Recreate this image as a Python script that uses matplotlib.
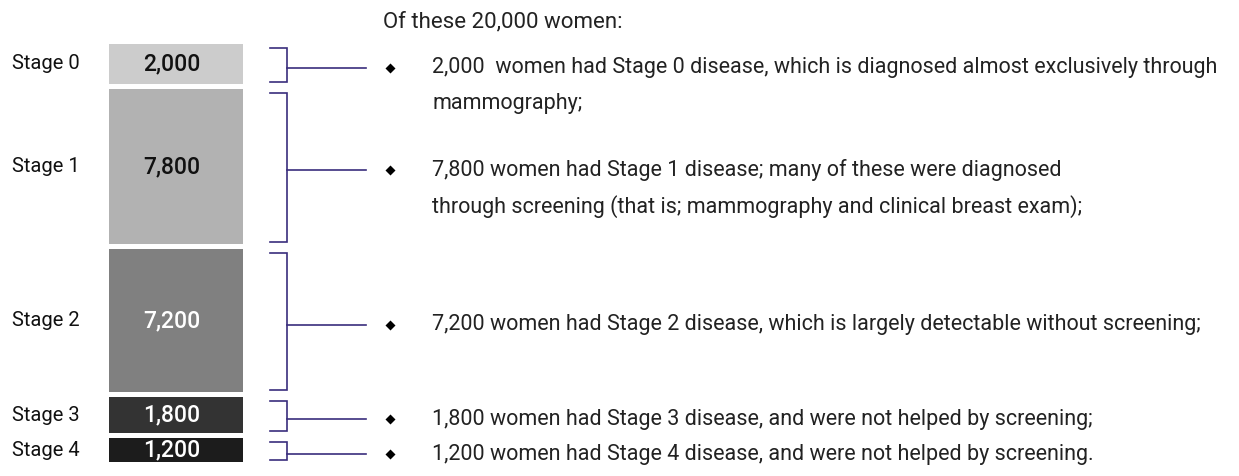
import matplotlib
matplotlib.use("Agg")
import matplotlib.pyplot as plt
import numpy as np

stages = ["Stage 0", "Stage 1", "Stage 2", "Stage 3", "Stage 4"]
counts = [2000, 7800, 7200, 1800, 1200]
value_labels = ["2,000", "7,800", "7,200", "1,800", "1,200"]
bar_colors = ["#cccccc", "#b2b2b2", "#808080", "#333333", "#1c1c1c"]
value_colors = ["#111111", "#111111", "#ffffff", "#ffffff", "#ffffff"]
title = "Of these 20,000 women:"
notes = [
    ["2,000  women had Stage 0 disease, which is diagnosed almost exclusively through",
     "mammography;"],
    ["7,800 women had Stage 1 disease; many of these were diagnosed",
     "through screening (that is; mammography and clinical breast exam);"],
    ["7,200 women had Stage 2 disease, which is largely detectable without screening;"],
    ["1,800 women had Stage 3 disease, and were not helped by screening;"],
    ["1,200 women had Stage 4 disease, and were not helped by screening."],
]

W, H = 1239, 476
fig = plt.figure(figsize=(W / 100, H / 100), dpi=100)
top_px, bot_px = 44, 462
ax = fig.add_axes([0, (H - bot_px) / H, 1, (bot_px - top_px) / H])
ax.set_axis_off()

gap = 250
total = sum(counts) + gap * (len(counts) - 1)
ax.set_xlim(0, W)
ax.set_ylim(total, 0)

body_font = ["Roboto", "DejaVu Sans"]
label_font = ["Roboto", "DejaVu Sans"]
bracket_color = "#3a2d7d"
text_color = "#222222"
body_size = 15.5

bottoms = np.concatenate([[0], np.cumsum(np.array(counts[:-1]) + gap)])
ax.bar([176] * len(counts), counts, width=134, bottom=bottoms,
       color=bar_colors, edgecolor="none")

for i, (st, c, b) in enumerate(zip(stages, counts, bottoms)):
    center = b + c / 2
    ax.text(172, center, value_labels[i], ha="center", va="center",
            fontsize=16.5, fontweight="medium", color=value_colors[i],
            family=label_font)
    ax.text(46, center, st, ha="center", va="center", fontsize=14.5,
            color="#111111", family=label_font)
    # bracket
    yb0 = b + 0.15 * min(c, 1000) + 60
    yb1 = b + c - 0.1 * min(c, 1000)
    ymid = center + 200
    ax.plot([270, 287, 287, 270], [yb0, yb0, yb1, yb1], color=bracket_color,
            lw=1.2, solid_joinstyle="miter")
    ax.plot([287, 366], [ymid, ymid], color=bracket_color, lw=1.2)
    # bullet
    ax.plot([390], [ymid], marker="D", ms=4.8, color="#000000", mec="none")
    for j, line in enumerate(notes[i]):
        ax.annotate(line, xy=(432, ymid), xytext=(0, -26 * j),
                    textcoords="offset points", ha="left", va="center",
                    fontsize=body_size, color=text_color, family=body_font)

fig.text(383 / W, 1 - 22 / H, title, ha="left", va="center",
         fontsize=16, color=text_color, family=body_font)

fig.savefig("out.png", dpi=100, facecolor="white")
